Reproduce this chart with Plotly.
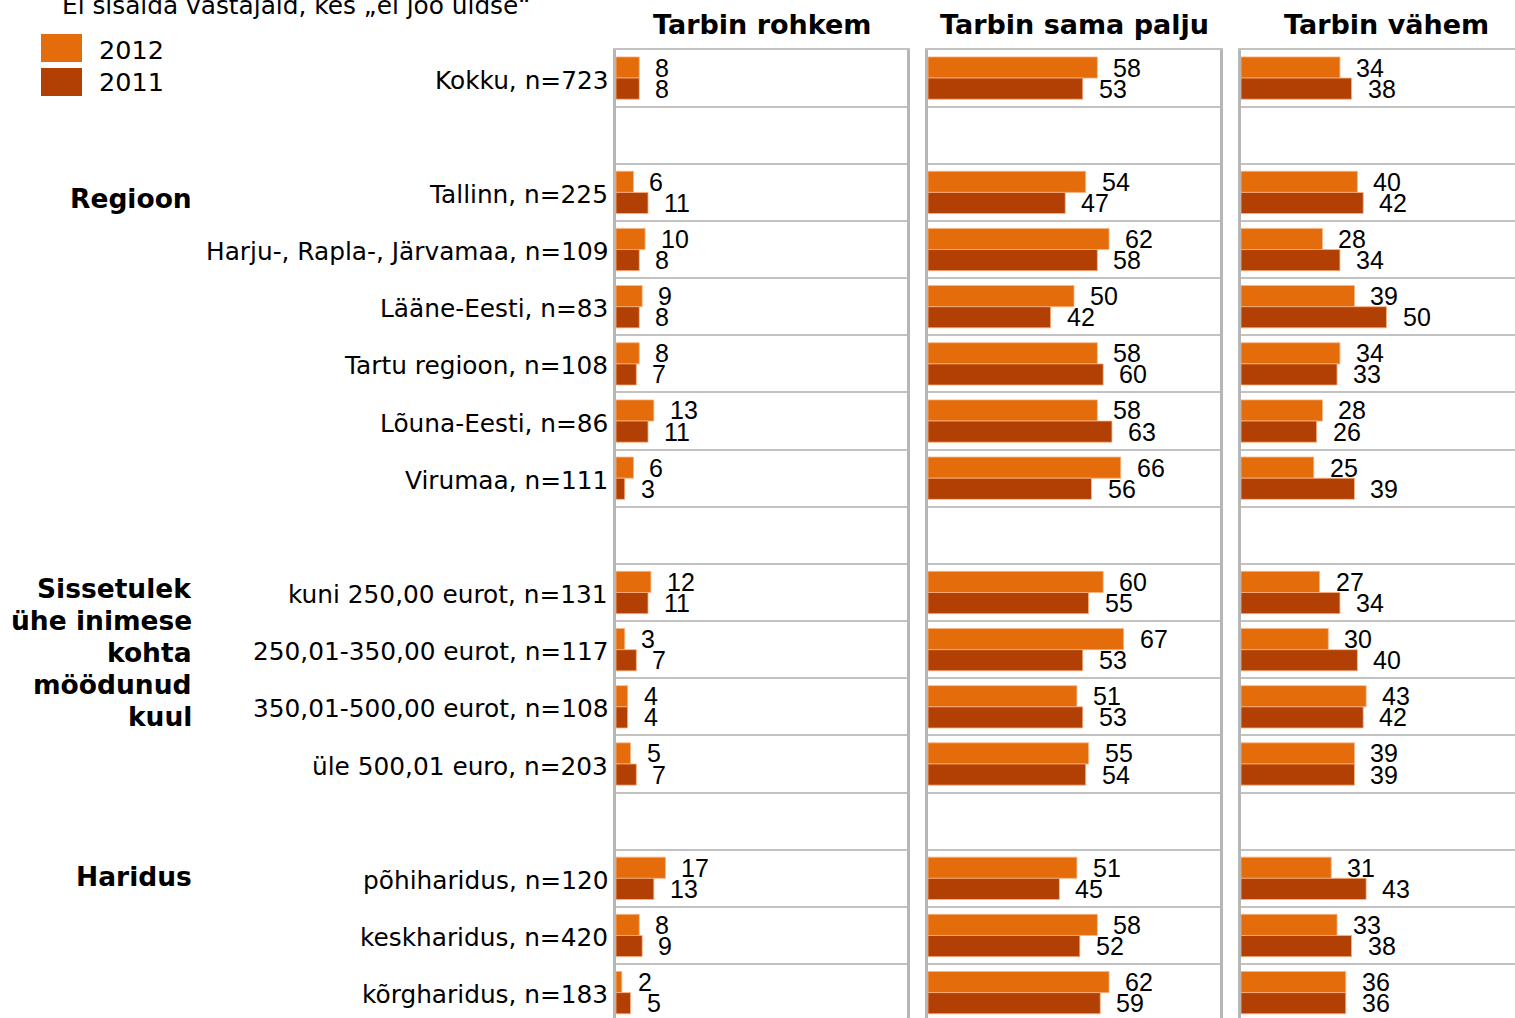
import plotly.graph_objects as go
from plotly.subplots import make_subplots

# ---------------- data ----------------
categories = [
    "Kokku, n=723", "",
    "Tallinn, n=225", "Harju-, Rapla-, Järvamaa, n=109", "Lääne-Eesti, n=83",
    "Tartu regioon, n=108", "Lõuna-Eesti, n=86", "Virumaa, n=111", "",
    "kuni 250,00 eurot, n=131", "250,01-350,00 eurot, n=117",
    "350,01-500,00 eurot, n=108", "üle 500,01 euro, n=203", "",
    "põhiharidus, n=120", "keskharidus, n=420", "kõrgharidus, n=183",
]
panels = ["Tarbin rohkem", "Tarbin sama palju", "Tarbin vähem"]
years = ["2012", "2011"]

rohkem_2012 = [8, None, 6, 10, 9, 8, 13, 6, None, 12, 3, 4, 5, None, 17, 8, 2]
rohkem_2011 = [8, None, 11, 8, 8, 7, 11, 3, None, 11, 7, 4, 7, None, 13, 9, 5]
sama_2012 = [58, None, 54, 62, 50, 58, 58, 66, None, 60, 67, 51, 55, None, 51, 58, 62]
sama_2011 = [53, None, 47, 58, 42, 60, 63, 56, None, 55, 53, 53, 54, None, 45, 52, 59]
vahem_2012 = [34, None, 40, 28, 39, 34, 28, 25, None, 27, 30, 43, 39, None, 31, 33, 36]
vahem_2011 = [38, None, 42, 34, 50, 33, 26, 39, None, 34, 40, 42, 39, None, 43, 38, 36]

group_labels = [
    ["Regioon"],
    ["Sissetulek", "ühe inimese", "kohta", "möödunud", "kuul"],
    ["Haridus"],
]
note_text = "Ei sisalda vastajaid, kes „ei joo üldse“"

# ---------------- layout helpers ----------------
W, H = 1515, 1018
PLOT_TOP = 49.5
ROW_H = 57.16
n_rows = len(categories)
rows = list(range(n_rows))
y_bottom = -0.5 + (H - PLOT_TOP) / ROW_H

def px(x):
    return x / W

def py(y):
    return 1 - y / H

colors = {"2012": "#E46C0A", "2011": "#B23F03"}
grid_col = "#C2C2C2"
border_col = "#B6B6B6"
num_font = dict(family="Liberation Sans, Arial, sans-serif", size=25, color="#000000")
cat_font = dict(family="DejaVu Sans, Verdana, sans-serif", size=24.8, color="#000000")
head_font = dict(family="DejaVu Sans, Verdana, sans-serif", size=27, color="#000000")
group_font = dict(family="DejaVu Sans, Verdana, sans-serif", size=26.5, color="#000000")

panel_values = [
    (rohkem_2012, rohkem_2011),
    (sama_2012, sama_2011),
    (vahem_2012, vahem_2011),
]
panel_px = [(616, 907), (928, 1220), (1241, 1532)]
SCALE = 291 / 100.0

fig = make_subplots(rows=1, cols=3, shared_yaxes=True, horizontal_spacing=0.01)

annotations = []
for p, (v12, v11) in enumerate(panel_values):
    col = p + 1
    for yr, vals in zip(years, (v12, v11)):
        fig.add_trace(
            go.Bar(
                x=vals, y=rows, orientation="h", name=yr,
                marker=dict(color=colors[yr],
                            line=dict(color="rgba(250,180,130,0.8)", width=1)),
                showlegend=False, hoverinfo="x",
            ),
            row=1, col=col,
        )
        off = -0.185 if yr == "2012" else 0.185
        xref = "x" if col == 1 else f"x{col}"
        yref = "y" if col == 1 else f"y{col}"
        for r, v in zip(rows, vals):
            if v is None:
                continue
            annotations.append(dict(
                x=v, y=r + off, xref=xref, yref=yref, text=str(v),
                showarrow=False, xanchor="left", yanchor="middle",
                xshift=14, font=num_font,
            ))

# axes
y_dom = [0, py(PLOT_TOP)]
for p in range(3):
    col = p + 1
    x0, x1 = panel_px[p]
    if x1 > W:
        dom = [px(x0), 1.0]
        xr = [0, (W - x0) / SCALE]
        mirror = False
    else:
        dom = [px(x0), px(x1)]
        xr = [0, 100]
        mirror = True
    fig.update_xaxes(domain=dom, range=xr, showgrid=False, zeroline=False,
                     showticklabels=False, ticks="", side="top",
                     showline=True, linecolor=grid_col, linewidth=2,
                     fixedrange=True, row=1, col=col)
    fig.update_yaxes(domain=y_dom, range=[y_bottom, -0.5],
                     tickmode="array", tickvals=[r - 0.5 for r in range(n_rows + 1)],
                     showticklabels=False, ticks="", showgrid=True,
                     gridcolor=grid_col, gridwidth=2, zeroline=False,
                     showline=True, linecolor=border_col, linewidth=2.5,
                     mirror=mirror, fixedrange=True, row=1, col=col)

# category labels
for r, c in zip(rows, categories):
    if not c:
        continue
    annotations.append(dict(
        x=px(610), y=r, xref="paper", yref="y", text=c, showarrow=False,
        xanchor="right", yanchor="middle", yshift=-2, font=cat_font,
    ))

# group labels (one annotation per line, 32 px line spacing)
group_centers_px = [198.5, 652, 876]
LINE_PX = 32
for lines, cy in zip(group_labels, group_centers_px):
    n = len(lines)
    for k, line in enumerate(lines):
        ypx = cy + (k - (n - 1) / 2) * LINE_PX
        annotations.append(dict(
            x=px(194), y=py(ypx), xref="paper", yref="paper",
            text=f"<b>{line}</b>", showarrow=False, xanchor="right",
            yanchor="middle", font=group_font,
        ))

# panel headers
for p, title in enumerate(panels):
    x0, x1 = panel_px[p]
    annotations.append(dict(
        x=px((x0 + x1) / 2), y=py(24), xref="paper", yref="paper",
        text=f"<b>{title}</b>", showarrow=False, xanchor="center",
        yanchor="middle", font=head_font,
    ))

# note at top (partially cut)
annotations.append(dict(
    x=px(60), y=py(5), xref="paper", yref="paper", text=note_text,
    showarrow=False, xanchor="left", yanchor="middle", font=cat_font,
))

# legend
shapes = []
leg_y = [(34, 62, 50), (68, 96, 82)]
for yr, (t, b, c) in zip(years, leg_y):
    shapes.append(dict(type="rect", xref="paper", yref="paper",
                       x0=px(41), x1=px(82), y0=py(b), y1=py(t),
                       fillcolor=colors[yr], line=dict(width=0)))
    annotations.append(dict(
        x=px(97), y=py(c), xref="paper", yref="paper", text=yr,
        showarrow=False, xanchor="left", yanchor="middle",
        font=dict(family="DejaVu Sans, Verdana, sans-serif", size=25.5, color="#000000"),
    ))

fig.update_layout(
    width=W, height=H,
    margin=dict(l=0, r=0, t=0, b=0),
    paper_bgcolor="white", plot_bgcolor="white",
    barmode="group", bargap=0.26, bargroupgap=0,
    annotations=annotations, shapes=shapes,
    showlegend=False,
)

fig.write_html(
    "out.html",
    config={"displayModeBar": False},
    post_script="document.body.style.margin='0';document.body.style.overflow='hidden';",
)
